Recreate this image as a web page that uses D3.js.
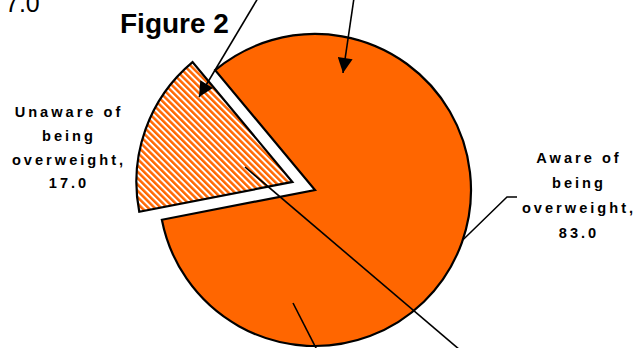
<!DOCTYPE html>
<html>
<head>
<meta charset="utf-8">
<script src="https://cdn.jsdelivr.net/npm/d3@7"></script>
<style>
  body { margin: 0; background: #fff; }
  svg { display: block; }
  .lbl { font-family: "Liberation Sans", Arial, sans-serif; font-weight: bold; font-size: 14.6px; letter-spacing: 3px; }
</style>
</head>
<body>
<svg id="chart" width="636" height="348"></svg>
<script>
// data
var categories = ["Unaware of being overweight", "Aware of being overweight"],
    values = [17.0, 83.0],
    labelLines = [["Unaware of", "being", "overweight,", "17.0"], ["Aware of", "being", "overweight,", "83.0"]],
    exploded = [true, false];

var W = 636, H = 348,
    cx = 315, cy = 190, R = 156,
    explodeDist = 24,
    orange = "#ff6600",
    svg = d3.select("#chart");

var defs = svg.append("defs");
var pat = defs.append("pattern")
    .attr("id", "hatch")
    .attr("patternUnits", "userSpaceOnUse")
    .attr("width", 4.5).attr("height", 4.5)
    .attr("patternTransform", "rotate(-45)");
pat.append("rect").attr("width", 4.5).attr("height", 4.5).attr("fill", "#fff");
pat.append("rect").attr("width", 2.5).attr("height", 4.5).attr("fill", orange);

var start = 259 * Math.PI / 180;
var pie = d3.pie().sort(null).startAngle(start).endAngle(start + 2 * Math.PI);
var arcs = pie(values);
var arc = d3.arc().innerRadius(0).outerRadius(R);

function offset(d, i) {
    if (!exploded[i]) return [0, 0];
    var a = (d.startAngle + d.endAngle) / 2;
    return [Math.sin(a) * explodeDist, -Math.cos(a) * explodeDist];
}

var g = svg.append("g").attr("transform", "translate(" + cx + "," + cy + ")");
g.selectAll("path.slice")
    .data(arcs)
    .enter()
    .append("path")
    .attr("class", "slice")
    .attr("transform", function (d, i) { var o = offset(d, i); return "translate(" + o[0] + "," + o[1] + ")"; })
    .attr("d", arc)
    .attr("fill", function (d, i) { return exploded[i] ? "url(#hatch)" : orange; })
    .attr("stroke", "#000")
    .attr("stroke-width", 2.2)
    .attr("stroke-linejoin", "miter");

// labels
var labelPos = [[69, 117], [579, 163]],
    lineH = [23.8, 25];
labelPos.forEach(function (p, i) {
    var t = svg.append("text").attr("class", "lbl").attr("text-anchor", "middle");
    labelLines[i].forEach(function (s, k) {
        t.append("tspan").attr("x", p[0]).attr("y", p[1] + k * lineH[i]).text(s);
    });
});

// leader line for "Aware" slice, starting on its rim
var la = 108.7 * Math.PI / 180;
var lp = [cx + Math.sin(la) * R, cy - Math.cos(la) * R];
svg.append("polyline")
    .attr("points", [lp, [507, 197], [517, 197]].map(function (p) { return p.join(","); }).join(" "))
    .attr("fill", "none").attr("stroke", "#000").attr("stroke-width", 1.5);

// title and page fragments
svg.append("text").attr("x", 120).attr("y", 33)
    .style("font-family", "Liberation Sans, Arial, sans-serif")
    .style("font-weight", "bold").style("font-size", "28px").text("Figure 2");
svg.append("text").attr("x", 5).attr("y", 12)
    .style("font-family", "Liberation Sans, Arial, sans-serif")
    .style("font-size", "25px").text("7.0");

// drawn arrows and lines over the chart
defs.append("marker").attr("id", "ah")
    .attr("viewBox", "0 0 10 10").attr("refX", 10).attr("refY", 5)
    .attr("markerUnits", "userSpaceOnUse")
    .attr("markerWidth", 16).attr("markerHeight", 15).attr("orient", "auto")
    .append("path").attr("d", "M0,0 L10,5 L0,10 Z").attr("fill", "#000");

var lines = [
    { p: [[258, -2], [199, 97]], arrow: true },
    { p: [[354, -2], [343, 73]], arrow: true },
    { p: [[245, 167], [460, 350]], arrow: false },
    { p: [[293, 303], [317, 350]], arrow: false }
];
lines.forEach(function (l) {
    svg.append("line")
        .attr("x1", l.p[0][0]).attr("y1", l.p[0][1])
        .attr("x2", l.p[1][0]).attr("y2", l.p[1][1])
        .attr("stroke", "#000").attr("stroke-width", 1.6)
        .attr("marker-end", l.arrow ? "url(#ah)" : null);
});
</script>
</body>
</html>
